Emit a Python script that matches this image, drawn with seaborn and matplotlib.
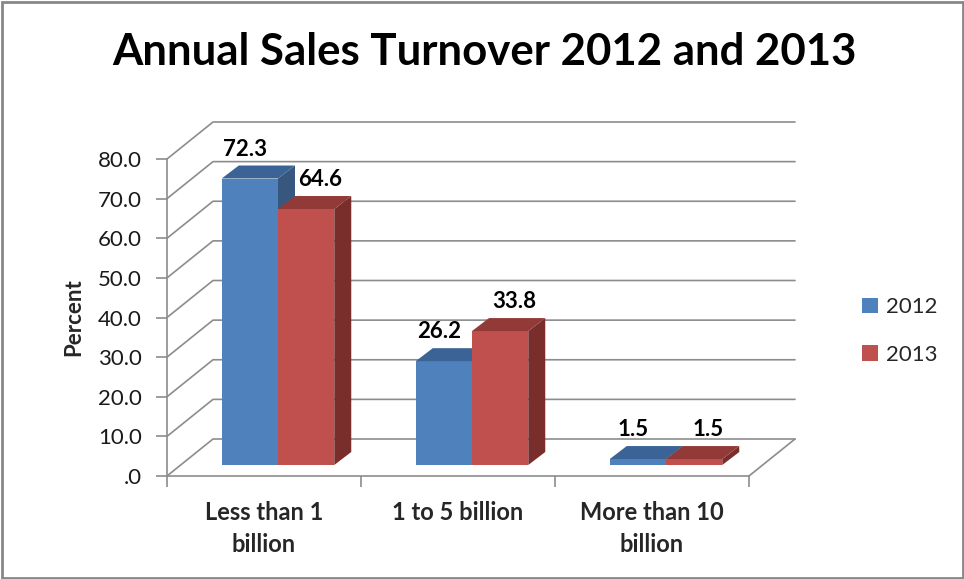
import matplotlib
matplotlib.use("Agg")
import matplotlib.pyplot as plt
from matplotlib.patches import Polygon, Rectangle, Patch
from matplotlib.transforms import IdentityTransform
from matplotlib.lines import Line2D
import seaborn as sns
import pandas as pd

# ---- data ----
categories = ["Less than 1\nbillion", "1 to 5 billion", "More than 10\nbillion"]
years = ["2012", "2013"]
values_2012 = [72.3, 26.2, 1.5]
values_2013 = [64.6, 33.8, 1.5]
y_ticks = [0, 10, 20, 30, 40, 50, 60, 70, 80]
y_tick_labels = [".0", "10.0", "20.0", "30.0", "40.0", "50.0", "60.0", "70.0", "80.0"]

df = pd.DataFrame({
    "category": categories * 2,
    "value": values_2012 + values_2013,
    "year": [years[0]] * 3 + [years[1]] * 3,
})

sns.set_theme(style="white")
plt.rcParams["font.family"] = ["Lato", "DejaVu Sans"]

W, H, DPI = 964, 579, 100
fig = plt.figure(figsize=(W / DPI, H / DPI), dpi=DPI)
fig.patch.set_facecolor("white")

# axes = front plane of the 3D box
ax_l, ax_r, ax_b, ax_t = 167, 749, 476, 159
ax = fig.add_axes([ax_l / W, 1 - ax_b / H, (ax_r - ax_l) / W, (ax_b - ax_t) / H])
ax.patch.set_alpha(0)

front_cols = {"2012": "#4F81BD", "2013": "#C0504D"}
top_cols = {"2012": "#3B6395", "2013": "#923A37"}
side_cols = {"2012": "#37577F", "2013": "#7A2E2C"}
label_shift = {"2012": -5, "2013": 14}   # pixel nudge of data labels per series

sns.barplot(data=df, x="category", y="value", hue="year", palette=front_cols,
            width=0.58, ax=ax, legend=False, saturation=1, linewidth=0)
ax.set_xlim(-0.5, 2.5)
ax.set_ylim(0, 80)

# depth geometry (pixels)
DX, DY = 46, 37          # full depth of box
OX, OY = 14, 11          # bar front-plane offset
BX, BY = 17, 13          # bar depth

tr = ax.transData
ident = IdentityTransform()
grid_col = "#8C8C8C"

# gridlines: diagonal on the side wall + horizontal on the back wall
for v in y_ticks:
    fx, fy = tr.transform((-0.5, v))
    rx, _ = tr.transform((2.5, v))
    ln = Line2D([fx, fx + DX, rx + DX], [fy, fy + DY, fy + DY], transform=ident,
                color=grid_col, lw=1.2, zorder=0)
    fig.add_artist(ln)
# floor right edge
fx, fy = tr.transform((2.5, 0))
fig.add_artist(Line2D([fx, fx + DX], [fy, fy + DY], transform=ident, color=grid_col, lw=1.2))

order = [p for p in ax.patches if p.get_width() > 0]
order.sort(key=lambda p: p.get_x())


def year_of(p):
    return "2013" if p.get_facecolor()[0] > 0.6 else "2012"


for p in order:
    yr = year_of(p)
    x0 = p.get_x()
    x1 = x0 + p.get_width()
    h = p.get_height()
    X0, Yb = tr.transform((x0, 0))
    X1, Yt = tr.transform((x1, h))
    X0 += OX; X1 += OX; Yb += OY; Yt += OY
    side = Polygon([(X1, Yb), (X1 + BX, Yb + BY), (X1 + BX, Yt + BY), (X1, Yt)],
                   closed=True, transform=ident, facecolor=side_cols[yr], edgecolor="none",
                   zorder=3)
    front = Polygon([(X0, Yb), (X1, Yb), (X1, Yt), (X0, Yt)], closed=True,
                    transform=ident, facecolor=front_cols[yr], edgecolor="none", zorder=3)
    top = Polygon([(X0, Yt), (X1, Yt), (X1 + BX, Yt + BY), (X0 + BX, Yt + BY)],
                  closed=True, transform=ident, facecolor=top_cols[yr], edgecolor="none",
                  zorder=3)
    fig.add_artist(side)
    fig.add_artist(front)
    fig.add_artist(top)
    fig.text(((X0 + X1) / 2 + label_shift[yr]) / W, (Yt + BY + 6) / H, f"{h:.1f}",
             ha="center", va="bottom", fontsize=16, fontweight="bold", color="black")
    p.set_visible(False)

# axes styling
for s in ["top", "right"]:
    ax.spines[s].set_visible(False)
for s in ["left", "bottom"]:
    ax.spines[s].set_color(grid_col)
    ax.spines[s].set_linewidth(1.2)
ax.set_yticks(y_ticks)
ax.set_yticklabels(y_tick_labels)
ax.tick_params(axis="y", direction="out", length=8, width=1.2, color=grid_col,
               labelsize=16, labelcolor="#1a1a1a", pad=10, left=True)
ax.set_xticks([0, 1, 2])
ax.set_xticklabels(categories, fontweight="bold", fontsize=17, linespacing=1.45)
ax.tick_params(axis="x", length=0, pad=18)
ax.set_xticks([-0.5, 0.5, 1.5, 2.5], minor=True)
ax.tick_params(axis="x", which="minor", direction="out", length=8, width=1.2,
               color=grid_col, bottom=True)
ax.set_xlabel("")
ax.set_ylabel("Percent", fontweight="bold", fontsize=16, labelpad=10)
ax.grid(False)

# title
fig.text(484 / W, 1 - 52 / H, "Annual Sales Turnover 2012 and 2013", ha="center",
         va="center", fontsize=31.5, fontweight="bold", color="black")

# legend
handles = [Patch(facecolor=front_cols[y], edgecolor="none", label=y) for y in years]
fig.legend(handles=handles, loc="center left", bbox_to_anchor=(842 / W, 1 - 331 / H),
           frameon=False, fontsize=16, handlelength=0.7, handleheight=0.7,
           handletextpad=0.4, labelspacing=1.25)

# chart border
fig.add_artist(Rectangle((1.5, 1.5), W - 3, H - 3, transform=ident, fill=False,
                         edgecolor="#878787", lw=2))

fig.savefig("out.png", dpi=DPI)
